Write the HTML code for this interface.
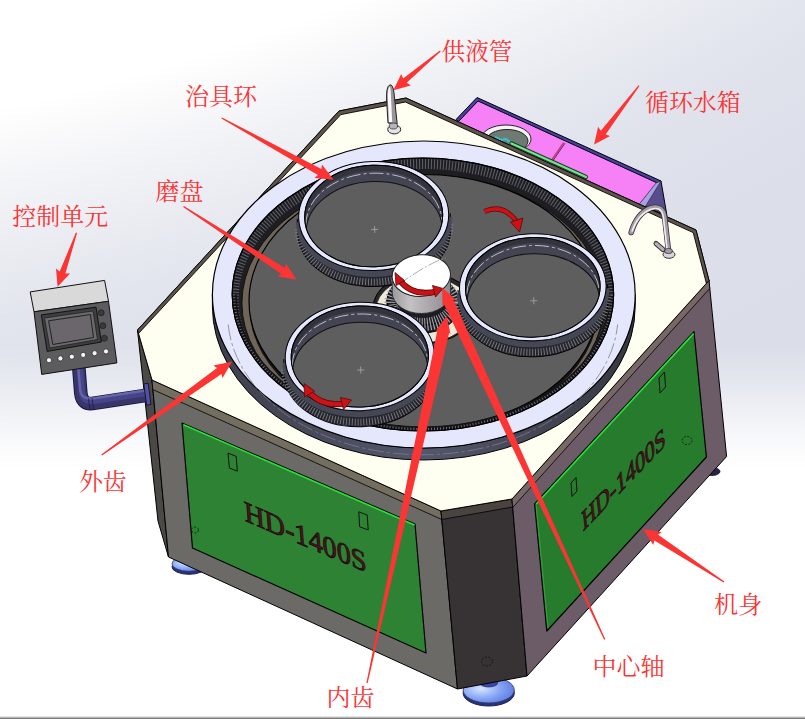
<!DOCTYPE html>
<html><head><meta charset="utf-8"><title>HD-1400S</title>
<style>html,body{margin:0;padding:0;background:#fff;overflow:hidden}svg{display:block;font-family:"Liberation Serif","Noto Serif CJK SC",serif}</style></head>
<body>
<svg width="805" height="719" viewBox="0 0 805 719">
<defs>
<radialGradient id="bg" gradientUnits="userSpaceOnUse" cx="-455" cy="-1994" r="2650" fx="-455" fy="-1994">
<stop offset="0.00000" stop-color="#ffffff"/>
<stop offset="0.81132" stop-color="#ffffff"/>
<stop offset="0.82415" stop-color="#fafafb"/>
<stop offset="0.84604" stop-color="#f1f2f6"/>
<stop offset="0.86830" stop-color="#e9ebf1"/>
<stop offset="0.89057" stop-color="#e2e5ed"/>
<stop offset="0.90151" stop-color="#e0e3ec"/>
<stop offset="0.93170" stop-color="#dde0ea"/>
<stop offset="0.98113" stop-color="#dbdee9"/>
<stop offset="1.00000" stop-color="#dbdee9"/>
</radialGradient>
<linearGradient id="bgw" gradientUnits="userSpaceOnUse" x1="0" y1="346" x2="0" y2="468">
<stop offset="0" stop-color="#ffffff" stop-opacity="0"/>
<stop offset="0.25" stop-color="#ffffff" stop-opacity="0.24"/>
<stop offset="0.5" stop-color="#ffffff" stop-opacity="0.52"/>
<stop offset="0.75" stop-color="#ffffff" stop-opacity="0.8"/>
<stop offset="1" stop-color="#ffffff" stop-opacity="1"/>
</linearGradient>
<linearGradient id="hubside" x1="0" y1="0" x2="1" y2="0">
<stop offset="0" stop-color="#9a989a"/><stop offset="0.3" stop-color="#c4c2c4"/><stop offset="1" stop-color="#8e8890"/>
</linearGradient>
<linearGradient id="ringwall" x1="0" y1="0" x2="1" y2="0">
<stop offset="0" stop-color="#3e404c"/><stop offset="0.5" stop-color="#54566c"/><stop offset="1" stop-color="#363840"/>
</linearGradient>
<radialGradient id="foot" cx="0.35" cy="0.45" r="0.7">
<stop offset="0" stop-color="#d6e6ff"/><stop offset="0.55" stop-color="#86a4f4"/><stop offset="1" stop-color="#5a78e0"/>
</radialGradient>
<linearGradient id="pipe" x1="0" y1="0" x2="0" y2="1">
<stop offset="0" stop-color="#6a68b4"/><stop offset="0.5" stop-color="#4a4890"/><stop offset="1" stop-color="#2c2a60"/>
</linearGradient>
<linearGradient id="pipev" x1="0" y1="0" x2="1" y2="0">
<stop offset="0" stop-color="#2c2a60"/><stop offset="0.5" stop-color="#55539c"/><stop offset="1" stop-color="#3a3878"/>
</linearGradient>
</defs>
<rect width="805" height="719" fill="url(#bg)"/><rect y="335" width="805" height="384" fill="url(#bgw)"/>
<rect x="0" y="716" width="805" height="1" fill="#e6e6e6"/><rect x="0" y="717" width="805" height="1" fill="#b4b4b4"/><rect x="0" y="718" width="805" height="1" fill="#7a7a7a"/>
<ellipse cx="488.7" cy="693.0" rx="25.6" ry="13.0" fill="#2b3474" stroke="#1a1f50" stroke-width="1" />
<ellipse cx="488.7" cy="690.0" rx="25.6" ry="13.0" fill="url(#foot)" stroke="#2b3474" stroke-width="0.8" />
<ellipse cx="488.7" cy="683.0" rx="9.0" ry="4.0" fill="#3a48a8" stroke="#1a1f50" stroke-width="0.6" />
<ellipse cx="189.0" cy="566.8" rx="17.0" ry="7.5" fill="#2b3474" stroke="#1a1f50" stroke-width="1" />
<ellipse cx="189.0" cy="563.8" rx="17.0" ry="7.5" fill="url(#foot)" stroke="#2b3474" stroke-width="0.8" />
<ellipse cx="189.0" cy="556.8" rx="9.0" ry="4.0" fill="#3a48a8" stroke="#1a1f50" stroke-width="0.6" />
<ellipse cx="712.0" cy="471.5" rx="8.0" ry="4.0" fill="#23264a" stroke="#111" stroke-width="0.8" />
<polygon points="478.0,99.0 660.0,182.0 639.0,205.0 457.0,122.0" fill="#f680f6" stroke="none" stroke-width="0" stroke-linejoin="round" />
<line x1="563.7" y1="142.6" x2="551.8" y2="160" stroke="#c03c70" stroke-width="1.6"/>
<line x1="565" y1="143.2" x2="553" y2="160.6" stroke="#5a2a6a" stroke-width="1"/>
<ellipse cx="506.0" cy="139.0" rx="25.0" ry="14.0" fill="#f4f4f4" stroke="#222" stroke-width="1" />
<ellipse cx="507.0" cy="141.0" rx="21.0" ry="11.5" fill="#6e7a72" stroke="#222" stroke-width="1" />
<path d="M495 137 l6 3 l5 -1 l4 3" stroke="#30c8d8" stroke-width="2" fill="none"/>
<polygon points="456.0,119.5 477.0,97.5 661.0,181.0 659.5,184.0 478.0,101.0 458.5,121.5" fill="#4640a0" stroke="#000" stroke-width="1" stroke-linejoin="round" />
<polygon points="661.0,181.0 667.0,216.0 640.0,204.0 656.0,184.0" fill="#574d8e" stroke="#000" stroke-width="1" stroke-linejoin="round" />
<polygon points="656.0,183.0 661.0,181.0 645.0,207.0 639.0,204.5" fill="#a8a0e4" stroke="#222" stroke-width="0.6" stroke-linejoin="round" />
<polygon points="137.5,330.0 152.0,380.0 168.5,557.0 158.0,521.0" fill="#4b4945" stroke="#000" stroke-width="1" stroke-linejoin="round" />
<polygon points="152.0,380.0 441.0,511.0 457.5,689.0 168.5,557.0" fill="#6c6a66" stroke="#000" stroke-width="1" stroke-linejoin="round" />
<polygon points="152.0,380.0 441.0,511.0 441.8,519.5 152.8,389.5" fill="#746e60" stroke="#000" stroke-width="0.8" stroke-linejoin="round" />
<polygon points="441.0,511.0 512.0,499.0 527.0,676.0 457.5,689.0" fill="#373233" stroke="#000" stroke-width="1" stroke-linejoin="round" />
<polygon points="441.0,511.0 512.0,499.0 512.7,507.0 441.8,519.5" fill="#4a4440" stroke="#000" stroke-width="0.8" stroke-linejoin="round" />
<polygon points="512.0,499.0 709.0,280.5 726.6,456.5 527.0,676.0" fill="#6b5c67" stroke="#000" stroke-width="1" stroke-linejoin="round" />
<polygon points="512.0,499.0 709.0,280.5 709.7,288.5 512.7,507.5" fill="#776866" stroke="#000" stroke-width="0.8" stroke-linejoin="round" />
<polygon points="182.0,423.0 415.0,524.0 426.0,653.0 192.5,548.0" fill="#2e8234" stroke="#000" stroke-width="1.2" stroke-linejoin="round" />
<line x1="183.5" y1="424.8" x2="414.5" y2="525" stroke="#28e038" stroke-width="1.6"/>
<polygon points="534.6,504.0 694.0,331.6 706.4,457.0 546.8,631.0" fill="#277b2d" stroke="#000" stroke-width="1.2" stroke-linejoin="round" />
<line x1="536.3" y1="506" x2="548" y2="628" stroke="#3aa040" stroke-width="1"/>
<line x1="536" y1="504.3" x2="693.6" y2="333.6" stroke="#28e038" stroke-width="1.6"/>
<polygon points="228.0,453.0 236.2,456.4 237.3,471.2 229.4,468.0" fill="none" stroke="#111" stroke-width="1" stroke-linejoin="round" />
<polygon points="358.8,511.8 367.2,515.0 368.2,529.9 359.6,526.8" fill="none" stroke="#111" stroke-width="1" stroke-linejoin="round" />
<polygon points="571.0,483.0 576.0,477.5 577.0,491.0 572.0,496.5" fill="none" stroke="#111" stroke-width="1" stroke-linejoin="round" />
<polygon points="659.0,378.0 664.5,372.0 665.5,387.0 660.0,393.0" fill="none" stroke="#111" stroke-width="1" stroke-linejoin="round" />
<ellipse cx="195.0" cy="530.0" rx="3.5" ry="3.0" fill="none" stroke="#111" stroke-width="0.8" stroke-dasharray="2 1.5"/>
<ellipse cx="487.0" cy="661.5" rx="5.5" ry="4.5" fill="none" stroke="#111" stroke-width="0.8" stroke-dasharray="2 1.5"/>
<ellipse cx="687.0" cy="440.5" rx="5.0" ry="4.0" fill="none" stroke="#111" stroke-width="0.8" stroke-dasharray="2 1.5"/>
<text transform="matrix(1.3536 0.5738 0.1119 1.4392 244.53 520.60)" x="0.34" y="0" font-size="20.48" font-family="'Liberation Serif',serif" textLength="90.3" lengthAdjust="spacingAndGlyphs" fill="#4e161e" stroke="#1c0a0c" stroke-width="0.62" stroke-linejoin="round">HD-1400S</text>
<text transform="matrix(0.9227 -0.9637 0.1566 1.3199 582.68 531.83)" x="0.34" y="0" font-size="20.48" font-family="'Liberation Serif',serif" textLength="90.3" lengthAdjust="spacingAndGlyphs" fill="#4e161e" stroke="#1c0a0c" stroke-width="0.62" stroke-linejoin="round">HD-1400S</text>
<polygon points="339.0,111.0 406.0,98.0 696.0,230.0 709.0,280.5 512.0,499.0 441.0,511.0 152.0,380.0 137.5,330.0" fill="#fffff1" stroke="#000" stroke-width="1" stroke-linejoin="round" />
<polygon points="137.5,330.0 339.0,111.0 406.0,98.0 696.0,230.0 709.0,280.5 706.4,283.4 693.2,232.6 405.4,102.0 340.8,114.6 138.5,333.5" fill="#5e544c" stroke="#000" stroke-width="0.9" stroke-linejoin="round" />
<line x1="511.5" y1="143.5" x2="586" y2="177" stroke="#1c3a24" stroke-width="4.2" stroke-linecap="round"/>
<line x1="511.5" y1="143.5" x2="586" y2="177" stroke="#6fe58c" stroke-width="2.4" stroke-linecap="round"/>
<path d="M212.4 294.5 A211.4 153.5 0 0 0 635.2 294.5 L635.2 306.5 A211.4 153.5 0 0 1 212.4 306.5 Z" fill="url(#ringwall)" stroke="#000" stroke-width="1"/>
<ellipse cx="423.8" cy="294.5" rx="211.4" ry="153.5" fill="#e5e7fd" stroke="#000" stroke-width="1.2" />
<clipPath id="cin"><ellipse cx="422.9" cy="294.5" rx="190.7" ry="136.5"/></clipPath>
<ellipse cx="422.9" cy="294.5" rx="190.7" ry="136.5" fill="#1e1e22" stroke="#000" stroke-width="1.2" />
<g clip-path="url(#cin)">
<ellipse cx="422.9" cy="299.0" rx="189.2" ry="135.0" fill="none" stroke="#5c5c66" stroke-width="10" stroke-dasharray="1.1 1.9"/>
<ellipse cx="422.9" cy="303.0" rx="181.0" ry="128.5" fill="#6e6458" stroke="#111" stroke-width="1" />
<ellipse cx="424.0" cy="305.0" rx="175.0" ry="126.5" fill="#141414" stroke="none" stroke-width="0" />
<ellipse cx="424.0" cy="301.0" rx="175.0" ry="126.5" fill="#5e5e5e" stroke="#000" stroke-width="1.2" />
<ellipse cx="424.0" cy="308.0" rx="51.0" ry="35.5" fill="#26262b" stroke="#000" stroke-width="1" />
<ellipse cx="424.0" cy="309.5" rx="48.0" ry="33.0" fill="#efe9d8" stroke="#222" stroke-width="0.8" />
<path d="M232.2 294.5 A190.7 136.5 0 0 0 613.6 294.5" fill="none" stroke="#141416" stroke-width="9"/>
<path d="M232.2 294.5 A190.7 136.5 0 0 0 613.6 294.5" fill="none" stroke="#77777f" stroke-width="6" stroke-dasharray="0.9 2.1"/>
</g>
<ellipse cx="422.9" cy="294.5" rx="190.7" ry="136.5" fill="none" stroke="#000" stroke-width="1.2" />
<path d="M228.2 324.5 A195.2 140.3 0 0 0 617.6 324.5" fill="none" stroke="#7c7c8a" stroke-width="0.8" stroke-dasharray="16 3 3 3"/>
<g transform="rotate(-2 373.7 216.0)">
<path d="M297.2 216.0 A76.5 55.5 0 0 0 450.2 216.0 L450.2 231.0 A76.5 55.5 0 0 1 297.2 231.0 Z" fill="#25252b" stroke="#000" stroke-width="1"/>
<path d="M297.7 226.5 A76.0 55.5 0 0 0 449.7 226.5" fill="none" stroke="#767680" stroke-width="7" stroke-dasharray="1 1.9"/>
<path d="M298.7 219.5 A75.0 54.5 0 0 0 448.7 219.5" fill="none" stroke="#454754" stroke-width="6"/>
<ellipse cx="373.7" cy="216.0" rx="75.0" ry="54.5" fill="#e5e7fd" stroke="#000" stroke-width="1" />
<clipPath id="cr1"><ellipse cx="373.7" cy="216.0" rx="69.0" ry="50.8"/></clipPath>
<ellipse cx="373.7" cy="216.0" rx="69.0" ry="50.8" fill="#444452" stroke="#000" stroke-width="1" />
<g clip-path="url(#cr1)">
<ellipse cx="373.7" cy="219.0" rx="69.0" ry="50.8" fill="none" stroke="#33333e" stroke-width="5" />
<ellipse cx="373.7" cy="223.0" rx="68.0" ry="49.8" fill="none" stroke="#c8c8d0" stroke-width="0.9" stroke-dasharray="14 3 3 3"/>
<ellipse cx="373.7" cy="230.5" rx="68.0" ry="49.0" fill="#5e5e5e" stroke="#111" stroke-width="1" />
</g>
<ellipse cx="373.7" cy="216.0" rx="69.0" ry="50.8" fill="none" stroke="#000" stroke-width="1" />
<path d="M370.7 229.5 h7 M374.2 226.0 v7" stroke="#a8a8a8" stroke-width="0.8"/>
</g>
<path d="M387 300 A35.5 25 0 0 0 458 300 L458 308 A35.5 25 0 0 1 387 308 Z" fill="#1e1e22" stroke="#000" stroke-width="1"/>
<ellipse cx="422.5" cy="300.0" rx="35.5" ry="25.0" fill="#1e1e22" stroke="#000" stroke-width="1" />
<ellipse cx="422.5" cy="302.5" rx="31.5" ry="22.0" fill="none" stroke="#a4a4ae" stroke-width="13" stroke-dasharray="1.1 1.7"/>
<path d="M392.2 277 L392.2 292.5 A29.2 21 0 0 0 450.6 292.5 L450.6 277 Z" fill="url(#hubside)" stroke="#222" stroke-width="0.8"/>
<ellipse cx="421.3" cy="275.6" rx="29.2" ry="20.8" fill="#ffffff" stroke="#222" stroke-width="1" transform="rotate(-4 421.3 275.6)"/>
<path d="M398 285 Q430 262 446 258" stroke="#999" stroke-width="0.8" fill="none" stroke-dasharray="12 2 2 2"/>
<g transform="rotate(-2 532.8 287.3)">
<path d="M458.0 287.3 A74.8 54.5 0 0 0 607.6 287.3 L607.6 302.3 A74.8 54.5 0 0 1 458.0 302.3 Z" fill="#25252b" stroke="#000" stroke-width="1"/>
<path d="M458.5 297.8 A74.3 54.5 0 0 0 607.1 297.8" fill="none" stroke="#767680" stroke-width="7" stroke-dasharray="1 1.9"/>
<path d="M459.5 290.8 A73.3 53.5 0 0 0 606.1 290.8" fill="none" stroke="#454754" stroke-width="6"/>
<ellipse cx="532.8" cy="287.3" rx="73.3" ry="53.5" fill="#e5e7fd" stroke="#000" stroke-width="1" />
<clipPath id="cr2"><ellipse cx="532.8" cy="287.3" rx="67.3" ry="49.8"/></clipPath>
<ellipse cx="532.8" cy="287.3" rx="67.3" ry="49.8" fill="#444452" stroke="#000" stroke-width="1" />
<g clip-path="url(#cr2)">
<ellipse cx="532.8" cy="290.3" rx="67.3" ry="49.8" fill="none" stroke="#33333e" stroke-width="5" />
<ellipse cx="532.8" cy="294.3" rx="66.3" ry="48.8" fill="none" stroke="#c8c8d0" stroke-width="0.9" stroke-dasharray="14 3 3 3"/>
<ellipse cx="532.8" cy="301.8" rx="66.3" ry="48.0" fill="#5e5e5e" stroke="#111" stroke-width="1" />
</g>
<ellipse cx="532.8" cy="287.3" rx="67.3" ry="49.8" fill="none" stroke="#000" stroke-width="1" />
<path d="M529.8 300.8 h7 M533.3 297.3 v7" stroke="#a8a8a8" stroke-width="0.8"/>
</g>
<g transform="rotate(-2 359.8 356.5)">
<path d="M283.7 356.5 A76.1 55.2 0 0 0 435.9 356.5 L435.9 371.5 A76.1 55.2 0 0 1 283.7 371.5 Z" fill="#25252b" stroke="#000" stroke-width="1"/>
<path d="M284.2 367.0 A75.6 55.2 0 0 0 435.4 367.0" fill="none" stroke="#767680" stroke-width="7" stroke-dasharray="1 1.9"/>
<path d="M285.2 360.0 A74.6 54.2 0 0 0 434.4 360.0" fill="none" stroke="#454754" stroke-width="6"/>
<ellipse cx="359.8" cy="356.5" rx="74.6" ry="54.2" fill="#e5e7fd" stroke="#000" stroke-width="1" />
<clipPath id="cr3"><ellipse cx="359.8" cy="356.5" rx="68.6" ry="50.5"/></clipPath>
<ellipse cx="359.8" cy="356.5" rx="68.6" ry="50.5" fill="#444452" stroke="#000" stroke-width="1" />
<g clip-path="url(#cr3)">
<ellipse cx="359.8" cy="359.5" rx="68.6" ry="50.5" fill="none" stroke="#33333e" stroke-width="5" />
<ellipse cx="359.8" cy="363.5" rx="67.6" ry="49.5" fill="none" stroke="#c8c8d0" stroke-width="0.9" stroke-dasharray="14 3 3 3"/>
<ellipse cx="359.8" cy="371.0" rx="67.6" ry="48.7" fill="#5e5e5e" stroke="#111" stroke-width="1" />
</g>
<ellipse cx="359.8" cy="356.5" rx="68.6" ry="50.5" fill="none" stroke="#000" stroke-width="1" />
<path d="M356.8 370.0 h7 M360.3 366.5 v7" stroke="#a8a8a8" stroke-width="0.8"/>
</g>
<path d="M399.5 280 Q412 297 437 291.5" fill="none" stroke="#5a0808" stroke-width="6"/>
<path d="M399.5 280 Q412 297 437 291.5" fill="none" stroke="#cc1216" stroke-width="4.4"/>
<polygon points="395.0,272.5 404.5,280.5 396.0,285.5" fill="#cc1216" stroke="#5a0808" stroke-width="0.8" stroke-linejoin="round" />
<polygon points="443.0,288.5 432.5,285.5 435.5,297.0" fill="#cc1216" stroke="#5a0808" stroke-width="0.8" stroke-linejoin="round" />
<path d="M484.5 211.5 Q503 203 517 222" fill="none" stroke="#5a0808" stroke-width="5"/>
<path d="M484.5 211.5 Q503 203 517 222" fill="none" stroke="#cc1216" stroke-width="3.6"/>
<polygon points="519.5,232.0 510.5,222.0 523.0,218.0" fill="#cc1216" stroke="#5a0808" stroke-width="0.8" stroke-linejoin="round" />
<path d="M309 392 Q322 407 344 403.5" fill="none" stroke="#5a0808" stroke-width="6"/>
<path d="M309 392 Q322 407 344 403.5" fill="none" stroke="#cc1216" stroke-width="4.4"/>
<polygon points="304.0,383.5 314.5,391.0 304.5,397.0" fill="#cc1216" stroke="#5a0808" stroke-width="0.8" stroke-linejoin="round" />
<polygon points="351.5,400.0 340.5,397.5 343.5,409.5" fill="#cc1216" stroke="#5a0808" stroke-width="0.8" stroke-linejoin="round" />
<path d="M389.6 85 Q386 87 386.6 100 L388 123 L397.2 124 L394 93 Q392.8 83.5 389.6 85 Z" fill="#9a949e" stroke="#222" stroke-width="1"/>
<path d="M389.3 86.8 Q387.4 89 387.9 100 L389 122 L392.2 122 L390.8 93 Q390.6 86.4 389.3 86.8 Z" fill="#fafafa"/>
<ellipse cx="394.2" cy="129.4" rx="6.5" ry="4.5" fill="#e4e4e6" stroke="#222" stroke-width="1" />
<ellipse cx="393.4" cy="126.0" rx="4.2" ry="3.0" fill="#b8b4bc" stroke="#333" stroke-width="0.8" />
<path d="M668.5 251 L664.6 217 Q662.5 204.5 651 208 Q637 213 631.2 232.5" fill="none" stroke="#333" stroke-width="5.6" stroke-linecap="round"/>
<path d="M668.5 251 L664.6 217 Q662.5 204.5 651 208 Q637 213 631.2 232.5" fill="none" stroke="#a49ca8" stroke-width="4" stroke-linecap="round"/>
<path d="M667 249 L663.3 217 Q661.5 206 651 209.2 Q638 214 632.2 231" fill="none" stroke="#f0eef2" stroke-width="1.6" stroke-linecap="round"/>
<ellipse cx="669.0" cy="254.5" rx="6.0" ry="3.8" fill="#d8d4da" stroke="#333" stroke-width="1" />
<ellipse cx="668.5" cy="251.0" rx="4.0" ry="2.6" fill="#a49ca8" stroke="#333" stroke-width="0.8" />
<path d="M656 243.5 l7 6" stroke="#333" stroke-width="5" stroke-linecap="round"/><path d="M656 243.5 l7 6" stroke="#b4aeb8" stroke-width="3" stroke-linecap="round"/>
<path d="M78.7 366 L80.8 393 Q82 405.5 94 403.3 L146.6 395.2" fill="none" stroke="#121030" stroke-width="13.6"/>
<path d="M78.7 366 L80.8 393 Q82 405.5 94 403.3 L146.6 395.2" fill="none" stroke="#37356a" stroke-width="12"/>
<path d="M79.7 366 L81.8 392 Q83 402.5 94 400.8 L146.6 392.7" fill="none" stroke="#47458a" stroke-width="6.5"/>
<path d="M78.2 366 L80.3 391 Q82 399.8 94 398.3 L146.6 390.3" fill="none" stroke="#6664a8" stroke-width="2.4"/>
<path d="M88.5 398.5 l1.5 11.5 M92 398 l1.5 11.5" stroke="#15143a" stroke-width="0.7"/>
<polygon points="143.8,384.0 148.2,383.2 151.0,404.4 146.6,405.4" fill="#54529e" stroke="#15143a" stroke-width="1" stroke-linejoin="round" />
<polygon points="30.2,291.9 104.6,280.4 108.5,301.3 34.0,311.8" fill="#d9d9d9" stroke="#111" stroke-width="1" stroke-linejoin="round" />
<polygon points="34.0,311.8 108.5,301.3 116.9,362.9 41.7,374.4" fill="#5c5c5e" stroke="#111" stroke-width="1" stroke-linejoin="round" />
<polygon points="41.3,314.9 96.0,307.2 101.4,342.0 47.2,351.4" fill="#3e3e40" stroke="#111" stroke-width="1" stroke-linejoin="round" />
<polygon points="44.5,318.0 93.0,311.0 97.5,339.5 49.8,348.0" fill="#6a6a6c" stroke="#222" stroke-width="0.8" stroke-linejoin="round" />
<polygon points="48.6,320.8 90.4,314.5 93.5,337.5 52.8,344.5" fill="#6b656c" stroke="#222" stroke-width="1" stroke-linejoin="round" />
<ellipse cx="49.0" cy="360.2" rx="2.6" ry="2.6" fill="#f4f4f4" stroke="#222" stroke-width="0.8" />
<ellipse cx="60.4" cy="358.4" rx="2.6" ry="2.6" fill="#f4f4f4" stroke="#222" stroke-width="0.8" />
<ellipse cx="71.8" cy="356.7" rx="2.6" ry="2.6" fill="#f4f4f4" stroke="#222" stroke-width="0.8" />
<ellipse cx="83.2" cy="354.9" rx="2.6" ry="2.6" fill="#f4f4f4" stroke="#222" stroke-width="0.8" />
<ellipse cx="94.6" cy="353.2" rx="2.6" ry="2.6" fill="#f4f4f4" stroke="#222" stroke-width="0.8" />
<ellipse cx="106.0" cy="351.4" rx="2.6" ry="2.6" fill="#f4f4f4" stroke="#222" stroke-width="0.8" />
<ellipse cx="101.2" cy="312.8" rx="3.0" ry="3.0" fill="#3a3a3c" stroke="#222" stroke-width="0.8" />
<ellipse cx="102.9" cy="325.7" rx="3.0" ry="3.0" fill="#3a3a3c" stroke="#222" stroke-width="0.8" />
<ellipse cx="104.4" cy="338.3" rx="3.0" ry="3.0" fill="#3a3a3c" stroke="#222" stroke-width="0.8" />
<polygon fill="#fb3434" points="439.9,50.5 403.1,78.6 401.2,74.0 393.4,90.3 410.9,85.5 406.7,82.8 440.7,51.5"/>
<polygon fill="#fb3434" points="221.4,118.6 317.9,175.1 314.5,178.1 333.6,179.8 322.0,164.6 321.3,169.0 222.0,117.4"/>
<polygon fill="#fb3434" points="183.1,207.0 281.2,273.8 277.6,276.5 296.5,279.5 286.0,263.5 285.0,267.9 183.9,206.0"/>
<polygon fill="#fb3434" points="75.9,232.6 59.7,271.6 56.0,268.6 57.6,286.7 70.1,273.6 65.4,273.5 77.1,233.0"/>
<polygon fill="#fb3434" points="638.5,85.2 600.8,130.8 598.1,126.8 594.1,144.5 610.1,135.9 605.6,134.4 639.5,86.0"/>
<polygon fill="#fb3434" points="102.1,455.5 221.4,374.0 222.5,378.1 232.2,361.6 213.5,365.5 217.0,367.9 101.3,454.5"/>
<polygon fill="#fb3434" points="367.6,683.3 449.2,332.8 450.6,334.6 446.7,315.9 435.4,331.4 437.4,330.3 366.4,683.1"/>
<polygon fill="#fb3434" points="605.3,639.2 453.6,299.9 456.2,300.3 442.1,287.6 442.6,306.6 444.0,304.3 604.1,639.8"/>
<polygon fill="#fb3434" points="724.4,581.5 658.2,534.7 661.8,532.0 642.9,528.9 653.3,545.0 654.4,540.6 723.6,582.5"/>
<text x="441.6" y="59.5" font-size="23.6" fill="#fb3434">供液管</text>
<text x="185" y="104.6" font-size="24" fill="#fb3434">治具环</text>
<text x="155.6" y="199.5" font-size="24" fill="#fb3434">磨盘</text>
<text x="12.2" y="225.4" font-size="24" fill="#fb3434">控制单元</text>
<text x="645" y="110.5" font-size="23.9" fill="#fb3434">循环水箱</text>
<text x="78.9" y="490" font-size="23.9" fill="#fb3434">外齿</text>
<text x="326.5" y="706.3" font-size="23.9" fill="#fb3434">内齿</text>
<text x="592.6" y="675.4" font-size="24" fill="#fb3434">中心轴</text>
<text x="714.1" y="612.6" font-size="24.1" fill="#fb3434">机身</text>
</svg>
</body></html>
